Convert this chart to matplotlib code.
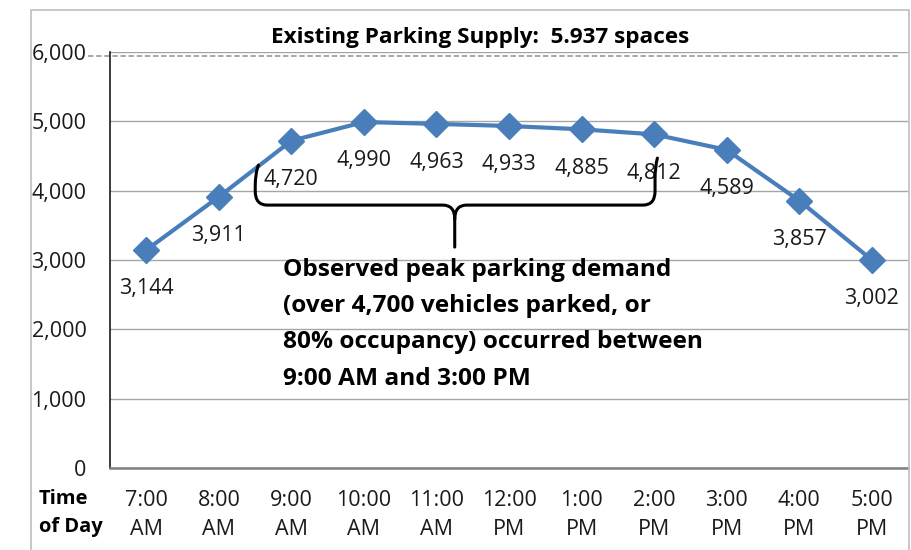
import matplotlib
matplotlib.use("Agg")
import matplotlib.pyplot as plt
from matplotlib.path import Path
from matplotlib.patches import PathPatch, Rectangle
from matplotlib.transforms import blended_transform_factory

# Hourly parking occupancy counts
times = ["7:00\nAM", "8:00\nAM", "9:00\nAM", "10:00\nAM", "11:00\nAM", "12:00\nPM",
         "1:00\nPM", "2:00\nPM", "3:00\nPM", "4:00\nPM", "5:00\nPM"]
vehicles = [3144, 3911, 4720, 4990, 4963, 4933, 4885, 4812, 4589, 3857, 3002]
supply = 5937
y_ticks = [0, 1000, 2000, 3000, 4000, 5000, 6000]

title = "Existing Parking Supply:  5.937 spaces"
note = ("Observed peak parking demand\n(over 4,700 vehicles parked, or\n"
        "80% occupancy) occurred between\n9:00 AM and 3:00 PM")

plt.rcParams["font.family"] = ["Open Sans", "DejaVu Sans"]
TXT = "#1A1A1A"

W, H = 912, 550
fig = plt.figure(figsize=(W / 100, H / 100), dpi=100)
fig.patch.set_facecolor("white")

# outer chart frame
fig.patches.append(Rectangle((31 / W, -0.05), (909 - 31) / W, 1.05 - 10 / H,
                             transform=fig.transFigure, fill=False,
                             edgecolor="#BFBFBF", lw=1.2))

ax = fig.add_axes([110 / W, 1 - 468 / H, 798 / W, 416 / H])
x = list(range(len(times)))

ax.set_xlim(-0.5, len(times) - 0.5)
ax.set_ylim(0, 6000)
ax.set_yticks(y_ticks)
ax.set_yticklabels([f"{v:,}" for v in y_ticks], fontsize=15.5, color=TXT)
ax.set_xticks(x)
ax.set_xticklabels(times, fontsize=15.5, color=TXT, linespacing=1.5)
ax.tick_params(axis="both", length=0)
ax.tick_params(axis="y", pad=17)
ax.tick_params(axis="x", pad=16)

ax.grid(axis="y", color="#A6A6A6", lw=1.0)
ax.set_axisbelow(True)
for s in ["top", "right"]:
    ax.spines[s].set_visible(False)
ax.spines["left"].set_color("#1A1A1A")
ax.spines["left"].set_linewidth(1.2)
ax.spines["bottom"].set_color("#808080")
ax.spines["bottom"].set_linewidth(1.8)

# supply reference line
bt = blended_transform_factory(ax.transAxes, ax.transData)
ax.plot([-0.028, 0.987], [supply, supply], transform=bt, clip_on=False,
        color="#A0A0A0", lw=1.3, ls=(0, (3, 1.5)), zorder=1)

ax.plot(x, vehicles, color="#4A7EBB", lw=3.0, marker="D", markersize=13,
        markerfacecolor="#4A7EBB", markeredgecolor="#4A7EBB", zorder=3)

for xi, v in zip(x, vehicles):
    ax.annotate(f"{v:,}", (xi, v), xytext=(0, -28), textcoords="offset points",
                ha="center", va="center", fontsize=15.5, color=TXT)

ax.text((480 - 110) / 798, 1 + 15 / 416, title, transform=ax.transAxes,
        ha="center", va="center", fontsize=16.2, fontweight="bold", color="black")

ax.text(-71 / 798, -31 / 416, "Time", transform=ax.transAxes, ha="left",
        va="center", fontsize=14.5, fontweight="bold", color="black")
ax.text(-71 / 798, -59 / 416, "of Day", transform=ax.transAxes, ha="left",
        va="center", fontsize=14.5, fontweight="bold", color="black")

ax.text(173 / 798, 1 - 206 / 416, note, transform=ax.transAxes, ha="left",
        va="top", fontsize=17.6, fontweight="bold", linespacing=1.68,
        color="black")

# curly brace spanning the peak period
x0, xc, x1 = 0.182, 0.432, 0.683
yl, yr, yh, yb = 0.728, 0.745, 0.632, 0.531
rx, ry = 12 / 798, 14 / 416
verts = [(x0 + 0.004, yl), (x0, yl - 0.02), (x0, yl - 0.05),
         (x0, yh + ry),
         (x0, yh), (x0 + rx, yh),
         (xc - rx, yh),
         (xc, yh), (xc, yh - ry),
         (xc, yb),
         (xc, yh - ry),
         (xc, yh), (xc + rx, yh),
         (x1 - rx, yh),
         (x1, yh), (x1, yh + ry),
         (x1, yr - 0.05),
         (x1, yr - 0.02), (x1 + 0.003, yr)]
codes = [Path.MOVETO, Path.CURVE3, Path.CURVE3,
         Path.LINETO,
         Path.CURVE3, Path.CURVE3,
         Path.LINETO,
         Path.CURVE3, Path.CURVE3,
         Path.LINETO,
         Path.MOVETO,
         Path.CURVE3, Path.CURVE3,
         Path.LINETO,
         Path.CURVE3, Path.CURVE3,
         Path.LINETO,
         Path.CURVE3, Path.CURVE3]
ax.add_patch(PathPatch(Path(verts, codes), transform=ax.transAxes, fill=False,
                       lw=2.2, edgecolor="black", clip_on=False, zorder=4,
                       capstyle="round", joinstyle="round"))

fig.savefig("out.png", dpi=100, facecolor="white")
